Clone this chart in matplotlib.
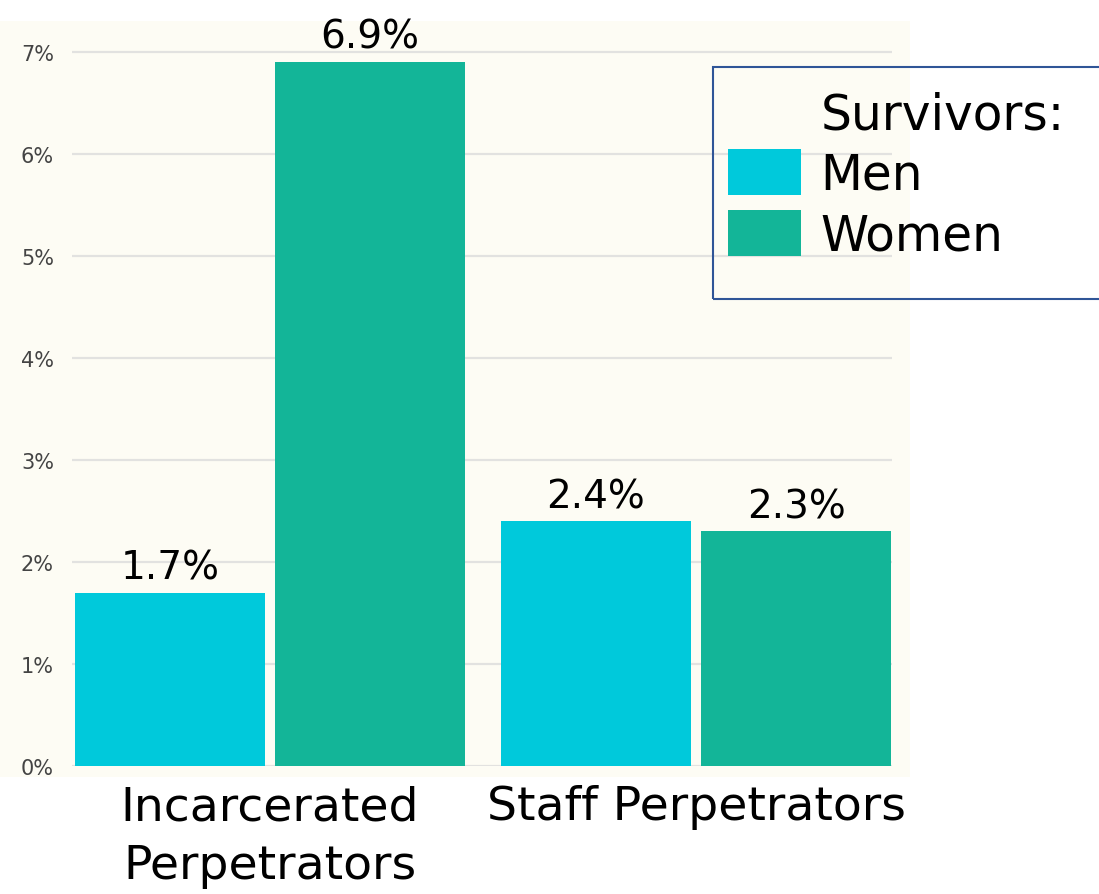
import matplotlib.pyplot as plt
from matplotlib.patches import Rectangle, Patch
import numpy as np

groups = ["Incarcerated\nPerpetrators", "Staff Perpetrators"]
men = [1.7, 2.4]
women = [6.9, 2.3]
yticks = [0, 1, 2, 3, 4, 5, 6, 7]

men_color = "#00C9DB"
women_color = "#13B598"

W, H = 1099, 895
fig = plt.figure(figsize=(W / 100, H / 100), dpi=100)
fig.patch.set_facecolor("white")

# cream chart background
fig.patches.append(Rectangle((0, 1 - 778 / H), 910 / W, (778 - 22) / H,
                             transform=fig.transFigure, facecolor="#FDFCF4",
                             edgecolor="none", zorder=-5))

ax = fig.add_axes([72 / W, 1 - 767 / H, (892 - 72) / W, (767 - 22) / H])
ax.set_facecolor("none")

x = np.arange(len(groups))
bw = 0.446
off = 0.235
b1 = ax.bar(x - off, men, bw, color=men_color, label="Men", zorder=3)
b2 = ax.bar(x + off, women, bw, color=women_color, label="Women", zorder=3)

for bars, vals in [(b1, men), (b2, women)]:
    for r, v in zip(bars, vals):
        ax.annotate(f"{v}%", (r.get_x() + r.get_width() / 2, v),
                    xytext=(0, 10), textcoords="offset points",
                    ha="center", va="baseline", fontsize=28)

ax.set_xlim(-0.465, 1.46)
ax.set_ylim(0, 7.3)
ax.set_yticks(yticks)
ax.set_yticklabels([f"{t}%" for t in yticks], fontsize=15, color="#444444")
ax.set_xticks(x)
ax.set_xticklabels(groups, fontsize=34, linespacing=1.4)
ax.tick_params(axis="both", length=0)
ax.tick_params(axis="y", pad=13)
ax.tick_params(axis="x", pad=13)
ax.grid(axis="y", color="#E2E2E0", linewidth=1.6)
ax.set_axisbelow(True)
for s in ax.spines.values():
    s.set_visible(False)

# legend box
fig.patches.append(Rectangle((713 / W, 1 - 300 / H), 400 / W, 232 / H,
                             transform=fig.transFigure, facecolor="none",
                             edgecolor="#2F5597", linewidth=1.5, zorder=5))
title_handle = Patch(facecolor="none", edgecolor="none")
fig.legend([title_handle, b1, b2], ["Survivors:", "Men", "Women"],
           loc="upper left", bbox_to_anchor=(728 / W, 1 - 90 / H),
           frameon=False, fontsize=35, handlelength=1.5, handleheight=1.08,
           handletextpad=0.4, labelspacing=0.22, borderpad=0, borderaxespad=0)

fig.savefig("out.png", dpi=100)
